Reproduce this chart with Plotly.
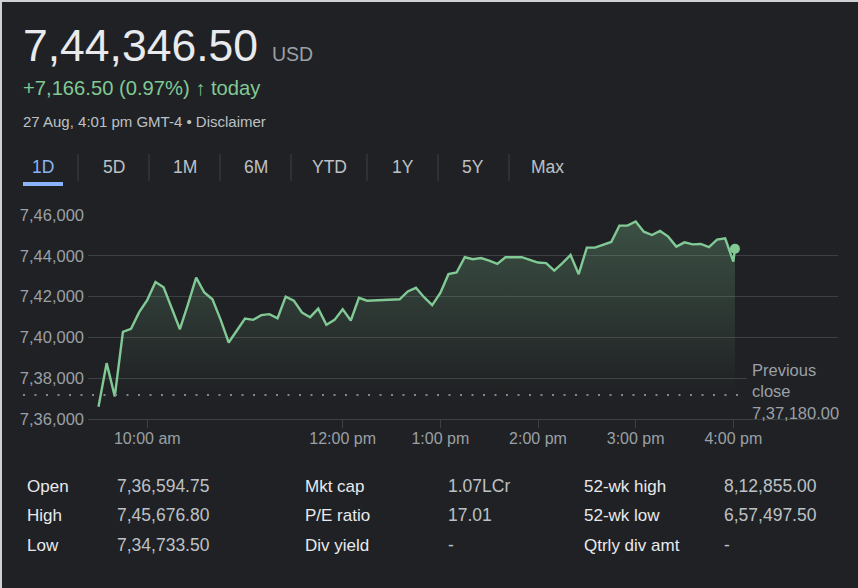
import pandas as pd
import plotly.graph_objects as go

# ---------------- data ----------------
times = [t.strftime("%Y-%m-%d %H:%M") for t in
         pd.date_range("2024-08-27 09:30", "2024-08-27 16:00", freq="5min")] + ["2024-08-27 16:01"]
prices = [
    736600, 738740, 737110, 740270, 740420, 741240, 741840, 742720, 742460, 741460,
    740400, 741630, 742930, 742200, 741870, 740870, 739750, 740340, 740920, 740860,
    741090, 741140, 740940, 742000, 741800, 741220, 740990, 741410, 740620, 740860,
    741380, 740830, 741940, 741800, 741820, 741840, 741850, 741870, 742250, 742430,
    741970, 741580, 742180, 743100, 743180, 743930, 743830, 743890, 743760, 743600,
    743930, 743930, 743930, 743800, 743670, 743640, 743270, 743640, 744040, 743100,
    744400, 744400, 744530, 744680, 745480, 745480, 745680, 745180, 745020, 745220,
    744940, 744450, 744660, 744560, 744580, 744430, 744790, 744860, 743710, 744346.5,
]
previous_close = 737180.00
previous_close_label = "7,37,180.00"
y_tick_values = [736000, 738000, 740000, 742000, 744000, 746000]
y_tick_labels = ["7,36,000", "7,38,000", "7,40,000", "7,42,000", "7,44,000", "7,46,000"]
x_tick_values = ["2024-08-27 10:00", "2024-08-27 12:00", "2024-08-27 13:00",
                 "2024-08-27 14:00", "2024-08-27 15:00", "2024-08-27 16:00"]
x_tick_labels = ["10:00 am", "12:00 pm", "1:00 pm", "2:00 pm", "3:00 pm", "4:00 pm"]

price_text = "7,44,346.50"
currency = "USD"
change_text = "+7,166.50 (0.97%) <b>↑</b> today"
date_text = "27 Aug, 4:01 pm GMT-4 • Disclaimer"
tabs = ["1D", "5D", "1M", "6M", "YTD", "1Y", "5Y", "Max"]
stat_labels = [["Open", "High", "Low"], ["Mkt cap", "P/E ratio", "Div yield"],
               ["52-wk high", "52-wk low", "Qtrly div amt"]]
stat_values = [["7,36,594.75", "7,45,676.80", "7,34,733.50"], ["1.07LCr", "17.01", "-"],
               ["8,12,855.00", "6,57,497.50", "-"]]

# ---------------- style / layout helpers ----------------
BG = "#202124"
GRID = "#3c4043"
GREEN = "#81c995"
FONT = "Arial, 'Liberation Sans', sans-serif"
L, R, T, B = 88, 838, 215, 419
W, H = 858, 588


def PX(x):
    return (x - L) / (R - L)


def PY(y):
    return (B - y) / (B - T)


fig = go.Figure()
fig.add_trace(go.Scatter(
    x=times, y=prices, mode="lines",
    line=dict(color=GREEN, width=2.4),
    fill="tozeroy",
    fillgradient=dict(type="vertical", start=737300, stop=745700,
                      colorscale=[[0, "rgba(129,201,149,0)"], [1, "rgba(129,201,149,0.28)"]]),
    hoverinfo="skip", showlegend=False,
))
fig.add_trace(go.Scatter(
    x=[times[-1]], y=[prices[-1]], mode="markers",
    marker=dict(color=GREEN, size=10), cliponaxis=False,
    hoverinfo="skip", showlegend=False,
))

shapes = []
# previous close dotted line
shapes.append(dict(type="line", xref="paper", yref="y", x0=PX(23), x1=PX(745),
                   y0=previous_close, y1=previous_close,
                   line=dict(color="#80868b", width=2, dash="2px,9.5px"), layer="above"))
# cover box behind previous close label
shapes.append(dict(type="rect", xref="paper", yref="paper", x0=PX(747), x1=PX(842),
                   y0=PY(416), y1=PY(360), fillcolor=BG, line=dict(width=0), layer="above"))
# tab separators
for sx in [78, 149, 220, 291, 367, 438, 509]:
    shapes.append(dict(type="line", xref="paper", yref="paper", x0=PX(sx), x1=PX(sx),
                       y0=PY(154), y1=PY(181), line=dict(color=GRID, width=1)))
# selected tab underline
shapes.append(dict(type="rect", xref="paper", yref="paper", x0=PX(23), x1=PX(63),
                   y0=PY(186), y1=PY(182), fillcolor="#8ab4f8", line=dict(width=0)))
# light page edge (left / top)
shapes.append(dict(type="line", xref="paper", yref="paper", x0=PX(1), x1=PX(1),
                   y0=PY(0), y1=PY(H), line=dict(color="#cfd1d4", width=2)))
shapes.append(dict(type="line", xref="paper", yref="paper", x0=PX(0), x1=PX(W),
                   y0=PY(1), y1=PY(1), line=dict(color="#cfd1d4", width=2)))

ann = []


def text(x, y, s, size, color, xanchor="left"):
    ann.append(dict(xref="paper", yref="paper", x=PX(x), y=PY(y), text=s, showarrow=False,
                    xanchor=xanchor, yanchor="middle", align="left",
                    font=dict(family=FONT, size=size, color=color)))


text(21, 45, price_text, 44.5, "#e8eaed")
text(270, 54, currency, 19.5, "#9aa0a6")
text(21, 88, change_text, 20.2, GREEN)
text(21, 121, date_text, 15, "#bdc1c6")
tab_centers = [43, 114, 185, 256, 329, 403, 473, 547]
for i, (tx, label) in enumerate(zip(tab_centers, tabs)):
    text(tx, 167, label, 17.5, "#8ab4f8" if i == 0 else "#bdc1c6", xanchor="center")
label_x = [25, 303, 582]
value_x = [115, 446, 722]
row_y = [486, 515, 545]
for c in range(3):
    for r in range(3):
        text(label_x[c], row_y[r], stat_labels[c][r], 17, "#e8eaed")
        text(value_x[c], row_y[r], stat_values[c][r], 17.5, "#bdc1c6")
# previous close label
ann.append(dict(xref="paper", yref="paper", x=PX(750), y=PY(391),
                text="Previous<br>close<br>" + previous_close_label,
                showarrow=False, xanchor="left", yanchor="middle", align="left",
                font=dict(family=FONT, size=16.5, color="#9aa0a6")))

fig.update_layout(
    width=W, height=H,
    margin=dict(l=L, r=W - R, t=T, b=H - B, pad=0),
    paper_bgcolor=BG, plot_bgcolor=BG,
    shapes=shapes, annotations=ann,
    xaxis=dict(type="date", range=["2024-08-27 09:23:33", "2024-08-27 17:04:18"],
               tickvals=x_tick_values, ticktext=x_tick_labels,
               showgrid=False, zeroline=False, showline=True, linecolor=GRID, linewidth=1,
               ticks="outside", ticklen=8, tickcolor=GRID, tickwidth=1, ticklabelstandoff=-3,
               tickfont=dict(family=FONT, size=16, color="#9aa0a6"), fixedrange=True),
    yaxis=dict(range=[736000, 746000], tickvals=y_tick_values, ticktext=y_tick_labels,
               showgrid=True, gridcolor=GRID, gridwidth=1, zeroline=False,
               ticks="", ticklabelstandoff=3,
               tickfont=dict(family=FONT, size=16.5, color="#9aa0a6"), fixedrange=True),
    showlegend=False,
)

fig.write_html("out.html", config={"displayModeBar": False},
               post_script="document.body.style.margin='0';document.body.style.background='#202124';")
